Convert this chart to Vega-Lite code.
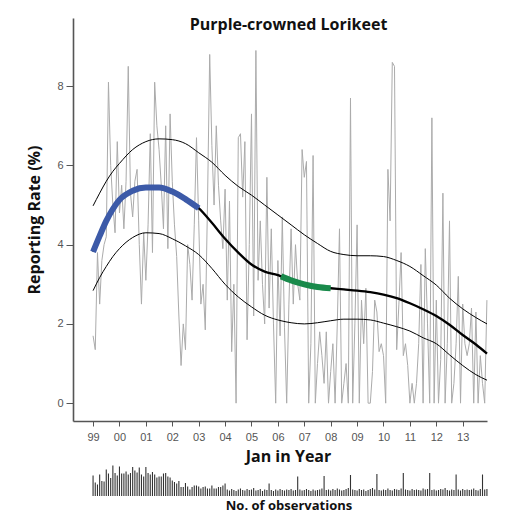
{
  "$schema": "https://vega.github.io/schema/vega-lite/v6.json",
  "background": "white",
  "padding": {"left": 26, "top": 16, "right": 26, "bottom": 0},
  "config": {
    "view": {"stroke": null},
    "axis": {"grid": false, "labelFont": "Liberation Sans", "labelFontSize": 11, "labelColor": "#555", "titleFont": "Open Sans", "titleFontSize": 16, "titleFontWeight": "bold", "titleColor": "#111", "domainColor": "#555", "domainWidth": 1.6, "tickColor": "#555", "tickWidth": 1}
  },
  "datasets": {
    "obs": [
      {"t":1999.000,"r":1.7,"n":41},{"t":1999.083,"r":1.35,"n":27},{"t":1999.167,"r":3.8,"n":23},{"t":1999.250,"r":2.5,"n":43},{"t":1999.333,"r":3.6,"n":30},{"t":1999.417,"r":4.0,"n":29},{"t":1999.500,"r":4.2,"n":53},{"t":1999.583,"r":8.1,"n":45},{"t":1999.667,"r":6.0,"n":36},{"t":1999.750,"r":5.0,"n":61},{"t":1999.833,"r":4.3,"n":46},{"t":1999.917,"r":6.6,"n":41},
      {"t":2000.000,"r":4.8,"n":59},{"t":2000.083,"r":5.5,"n":45},{"t":2000.167,"r":4.4,"n":45},{"t":2000.250,"r":5.6,"n":49},{"t":2000.333,"r":8.5,"n":43},{"t":2000.417,"r":5.3,"n":46},{"t":2000.500,"r":4.7,"n":58},{"t":2000.583,"r":5.6,"n":51},{"t":2000.667,"r":5.9,"n":47},{"t":2000.750,"r":4.0,"n":57},{"t":2000.833,"r":2.5,"n":43},{"t":2000.917,"r":4.3,"n":39},
      {"t":2001.000,"r":3.1,"n":58},{"t":2001.083,"r":4.5,"n":46},{"t":2001.167,"r":6.8,"n":43},{"t":2001.250,"r":3.8,"n":48},{"t":2001.333,"r":8.1,"n":43},{"t":2001.417,"r":7.0,"n":37},{"t":2001.500,"r":6.4,"n":39},{"t":2001.583,"r":5.5,"n":39},{"t":2001.667,"r":4.4,"n":45},{"t":2001.750,"r":7.0,"n":46},{"t":2001.833,"r":3.9,"n":39},{"t":2001.917,"r":7.3,"n":37},
      {"t":2002.000,"r":5.6,"n":31},{"t":2002.083,"r":4.5,"n":28},{"t":2002.167,"r":3.7,"n":25},{"t":2002.250,"r":2.2,"n":30},{"t":2002.333,"r":0.95,"n":18},{"t":2002.417,"r":2.0,"n":18},{"t":2002.500,"r":1.35,"n":26},{"t":2002.583,"r":4.0,"n":19},{"t":2002.667,"r":3.5,"n":13},{"t":2002.750,"r":2.6,"n":18},{"t":2002.833,"r":4.5,"n":21},{"t":2002.917,"r":6.7,"n":21},
      {"t":2003.000,"r":4.6,"n":19},{"t":2003.083,"r":2.5,"n":15},{"t":2003.167,"r":3.0,"n":18},{"t":2003.250,"r":1.85,"n":19},{"t":2003.333,"r":5.0,"n":15},{"t":2003.417,"r":8.8,"n":15},{"t":2003.500,"r":6.5,"n":21},{"t":2003.583,"r":5.0,"n":15},{"t":2003.667,"r":7.0,"n":15},{"t":2003.750,"r":5.5,"n":18},{"t":2003.833,"r":4.6,"n":18},{"t":2003.917,"r":3.9,"n":21},
      {"t":2004.000,"r":5.4,"n":25},{"t":2004.083,"r":2.6,"n":13},{"t":2004.167,"r":5.1,"n":11},{"t":2004.250,"r":1.3,"n":14},{"t":2004.333,"r":3.0,"n":12},{"t":2004.417,"r":0.0,"n":10},{"t":2004.500,"r":6.7,"n":13},{"t":2004.583,"r":6.8,"n":15},{"t":2004.667,"r":5.2,"n":12},{"t":2004.750,"r":6.6,"n":11},{"t":2004.833,"r":1.6,"n":14},{"t":2004.917,"r":4.0,"n":12},
      {"t":2005.000,"r":7.3,"n":13},{"t":2005.083,"r":2.2,"n":16},{"t":2005.167,"r":8.9,"n":11},{"t":2005.250,"r":3.1,"n":12},{"t":2005.333,"r":4.6,"n":14},{"t":2005.417,"r":3.0,"n":10},{"t":2005.500,"r":2.0,"n":13},{"t":2005.583,"r":5.7,"n":12},{"t":2005.667,"r":2.4,"n":25},{"t":2005.750,"r":4.4,"n":12},{"t":2005.833,"r":2.0,"n":10},{"t":2005.917,"r":0.0,"n":13},
      {"t":2006.000,"r":3.6,"n":11},{"t":2006.083,"r":1.7,"n":14},{"t":2006.167,"r":4.7,"n":12},{"t":2006.250,"r":1.9,"n":11},{"t":2006.333,"r":0.0,"n":13},{"t":2006.417,"r":2.5,"n":12},{"t":2006.500,"r":4.4,"n":14},{"t":2006.583,"r":2.5,"n":11},{"t":2006.667,"r":4.0,"n":12},{"t":2006.750,"r":3.0,"n":39},{"t":2006.833,"r":2.6,"n":13},{"t":2006.917,"r":6.4,"n":11},
      {"t":2007.000,"r":5.7,"n":12},{"t":2007.083,"r":6.1,"n":14},{"t":2007.167,"r":0.0,"n":12},{"t":2007.250,"r":1.5,"n":10},{"t":2007.333,"r":6.25,"n":13},{"t":2007.417,"r":0.0,"n":11},{"t":2007.500,"r":1.0,"n":12},{"t":2007.583,"r":1.8,"n":13},{"t":2007.667,"r":1.2,"n":15},{"t":2007.750,"r":0.5,"n":40},{"t":2007.833,"r":1.8,"n":12},{"t":2007.917,"r":0.0,"n":13},
      {"t":2008.000,"r":0.8,"n":11},{"t":2008.083,"r":1.5,"n":14},{"t":2008.167,"r":0.0,"n":12},{"t":2008.250,"r":2.0,"n":15},{"t":2008.333,"r":4.4,"n":13},{"t":2008.417,"r":0.0,"n":11},{"t":2008.500,"r":0.5,"n":12},{"t":2008.583,"r":1.0,"n":14},{"t":2008.667,"r":0.0,"n":16},{"t":2008.750,"r":7.7,"n":42},{"t":2008.833,"r":0.0,"n":13},{"t":2008.917,"r":2.0,"n":12},
      {"t":2009.000,"r":4.5,"n":11},{"t":2009.083,"r":0.0,"n":14},{"t":2009.167,"r":2.6,"n":12},{"t":2009.250,"r":1.5,"n":13},{"t":2009.333,"r":2.9,"n":10},{"t":2009.417,"r":0.0,"n":12},{"t":2009.500,"r":0.0,"n":14},{"t":2009.583,"r":0.8,"n":16},{"t":2009.667,"r":2.6,"n":13},{"t":2009.750,"r":2.3,"n":44},{"t":2009.833,"r":1.3,"n":12},{"t":2009.917,"r":1.5,"n":11},
      {"t":2010.000,"r":1.2,"n":13},{"t":2010.083,"r":0.0,"n":12},{"t":2010.167,"r":5.9,"n":15},{"t":2010.250,"r":4.6,"n":12},{"t":2010.333,"r":8.6,"n":11},{"t":2010.417,"r":8.5,"n":14},{"t":2010.500,"r":1.35,"n":13},{"t":2010.583,"r":2.5,"n":12},{"t":2010.667,"r":3.8,"n":15},{"t":2010.750,"r":1.2,"n":46},{"t":2010.833,"r":1.5,"n":13},{"t":2010.917,"r":0.95,"n":12},
      {"t":2011.000,"r":0.0,"n":11},{"t":2011.083,"r":0.5,"n":14},{"t":2011.167,"r":0.0,"n":12},{"t":2011.250,"r":0.5,"n":13},{"t":2011.333,"r":1.5,"n":12},{"t":2011.417,"r":3.5,"n":11},{"t":2011.500,"r":0.0,"n":15},{"t":2011.583,"r":3.9,"n":13},{"t":2011.667,"r":2.0,"n":14},{"t":2011.750,"r":0.0,"n":46},{"t":2011.833,"r":7.2,"n":12},{"t":2011.917,"r":0.0,"n":13},
      {"t":2012.000,"r":2.6,"n":11},{"t":2012.083,"r":0.0,"n":12},{"t":2012.167,"r":1.1,"n":14},{"t":2012.250,"r":5.3,"n":13},{"t":2012.333,"r":0.0,"n":16},{"t":2012.417,"r":1.5,"n":12},{"t":2012.500,"r":4.6,"n":11},{"t":2012.583,"r":0.0,"n":13},{"t":2012.667,"r":0.5,"n":12},{"t":2012.750,"r":1.5,"n":43},{"t":2012.833,"r":3.2,"n":13},{"t":2012.917,"r":0.0,"n":11},
      {"t":2013.000,"r":2.5,"n":14},{"t":2013.083,"r":1.5,"n":12},{"t":2013.167,"r":1.2,"n":13},{"t":2013.250,"r":1.5,"n":12},{"t":2013.333,"r":2.4,"n":13},{"t":2013.417,"r":0.0,"n":15},{"t":2013.500,"r":2.3,"n":12},{"t":2013.583,"r":0.0,"n":11},{"t":2013.667,"r":1.2,"n":14},{"t":2013.750,"r":0.5,"n":43},{"t":2013.833,"r":0.0,"n":13},{"t":2013.917,"r":2.6,"n":14}
    ],
    "curve": [
      {"t":1999.0,"fit":3.82,"up":4.98,"lo":2.84},
      {"t":1999.25,"fit":4.22,"up":5.3,"lo":3.17},
      {"t":1999.5,"fit":4.6,"up":5.6,"lo":3.45},
      {"t":1999.75,"fit":4.9,"up":5.85,"lo":3.7},
      {"t":2000.0,"fit":5.13,"up":6.05,"lo":3.9},
      {"t":2000.5,"fit":5.36,"up":6.4,"lo":4.18},
      {"t":2001.0,"fit":5.44,"up":6.6,"lo":4.3},
      {"t":2001.5,"fit":5.44,"up":6.67,"lo":4.28},
      {"t":2002.0,"fit":5.34,"up":6.65,"lo":4.15},
      {"t":2002.5,"fit":5.15,"up":6.55,"lo":3.97},
      {"t":2003.0,"fit":4.92,"up":6.32,"lo":3.75},
      {"t":2003.5,"fit":4.55,"up":6.08,"lo":3.4},
      {"t":2004.0,"fit":4.15,"up":5.75,"lo":3.0},
      {"t":2004.5,"fit":3.8,"up":5.47,"lo":2.68},
      {"t":2005.0,"fit":3.5,"up":5.25,"lo":2.43},
      {"t":2005.5,"fit":3.32,"up":5.0,"lo":2.22},
      {"t":2006.0,"fit":3.23,"up":4.75,"lo":2.1},
      {"t":2006.12,"fit":3.2,"up":4.69,"lo":2.08},
      {"t":2006.5,"fit":3.1,"up":4.5,"lo":2.03},
      {"t":2007.0,"fit":3.0,"up":4.25,"lo":2.0},
      {"t":2007.5,"fit":2.93,"up":4.03,"lo":2.03},
      {"t":2008.0,"fit":2.9,"up":3.83,"lo":2.08},
      {"t":2008.5,"fit":2.87,"up":3.75,"lo":2.12},
      {"t":2009.0,"fit":2.84,"up":3.72,"lo":2.12},
      {"t":2009.5,"fit":2.8,"up":3.72,"lo":2.1},
      {"t":2010.0,"fit":2.74,"up":3.7,"lo":2.02},
      {"t":2010.5,"fit":2.65,"up":3.6,"lo":1.93},
      {"t":2011.0,"fit":2.52,"up":3.45,"lo":1.82},
      {"t":2011.5,"fit":2.37,"up":3.22,"lo":1.65},
      {"t":2012.0,"fit":2.2,"up":2.98,"lo":1.5},
      {"t":2012.5,"fit":1.98,"up":2.65,"lo":1.22},
      {"t":2013.0,"fit":1.72,"up":2.38,"lo":0.95},
      {"t":2013.5,"fit":1.48,"up":2.16,"lo":0.72},
      {"t":2013.92,"fit":1.25,"up":2.0,"lo":0.58}
    ]
  },
  "bounds": "flush",
  "spacing": 44,
  "vconcat": [
    {
      "width": 414,
      "height": 403,
      "resolve": {"axis": {"x": "independent"}},
      "layer": [
        {
          "data": {"name": "obs"},
          "mark": {"type": "line", "color": "#ababab", "strokeWidth": 1},
          "encoding": {
            "x": {"field": "t", "type": "quantitative", "scale": {"domain": [1998.24, 2013.92], "nice": false, "zero": false},
              "axis": {"title": "Jan in Year", "values": [1999,2000,2001,2002,2003,2004,2005,2006,2007,2008,2009,2010,2011,2012,2013], "labelExpr": "(datum.value % 100) < 10 ? '0' + (datum.value % 100) : '' + (datum.value % 100)", "tickSize": 5, "labelPadding": 5, "titleX": 215, "titleY": 40, "titleBaseline": "alphabetic", "titleAnchor": "middle"}},
            "y": {"field": "r", "type": "quantitative", "scale": {"domain": [-0.45, 9.72], "nice": false, "zero": false},
              "axis": {"title": "Reporting Rate (%)", "values": [0,2,4,6,8], "tickSize": 7, "labelPadding": 3, "titlePadding": 14}}
          }
        },
        {
          "data": {"name": "curve"},
          "mark": {"type": "line", "color": "#000", "strokeWidth": 1, "interpolate": "monotone"},
          "encoding": {
            "x": {"field": "t", "type": "quantitative", "axis": {"orient": "top", "title": "Purple-crowned Lorikeet", "domain": false, "ticks": false, "labels": false, "titleX": 215, "titleY": 11, "titleBaseline": "alphabetic", "titleAnchor": "middle"}},
            "y": {"field": "up", "type": "quantitative"}
          }
        },
        {
          "data": {"name": "curve"},
          "mark": {"type": "line", "color": "#000", "strokeWidth": 1, "interpolate": "monotone"},
          "encoding": {"x": {"field": "t", "type": "quantitative", "axis": null}, "y": {"field": "lo", "type": "quantitative"}}
        },
        {
          "data": {"name": "curve"},
          "mark": {"type": "line", "color": "#000", "strokeWidth": 2.3, "interpolate": "monotone"},
          "encoding": {"x": {"field": "t", "type": "quantitative", "axis": null}, "y": {"field": "fit", "type": "quantitative"}}
        },
        {
          "data": {"name": "curve"},
          "transform": [{"filter": "datum.t <= 2003.0"}],
          "mark": {"type": "line", "color": "#3c5aa8", "strokeWidth": 6, "interpolate": "monotone"},
          "encoding": {"x": {"field": "t", "type": "quantitative", "axis": null}, "y": {"field": "fit", "type": "quantitative"}}
        },
        {
          "data": {"name": "curve"},
          "transform": [{"filter": "datum.t >= 2006.12 && datum.t <= 2008.0"}],
          "mark": {"type": "line", "color": "#198a4b", "strokeWidth": 6, "interpolate": "monotone"},
          "encoding": {"x": {"field": "t", "type": "quantitative", "axis": null}, "y": {"field": "fit", "type": "quantitative"}}
        }
      ]
    },
    {
      "width": 414,
      "height": 31,
      "data": {"name": "obs"},
      "title": {"text": "No. of observations", "orient": "bottom", "font": "Open Sans", "fontSize": 13, "fontWeight": "bold", "color": "#111", "anchor": "middle", "dx": 9, "offset": 3},
      "mark": {"type": "rule", "color": "#333", "strokeWidth": 1.1},
      "encoding": {
        "x": {"field": "t", "type": "quantitative", "scale": {"domain": [1998.24, 2013.92], "nice": false, "zero": false}, "axis": null},
        "y": {"field": "n", "type": "quantitative", "scale": {"domain": [0, 62], "nice": false}, "axis": null},
        "y2": {"datum": 0}
      }
    }
  ]
}
